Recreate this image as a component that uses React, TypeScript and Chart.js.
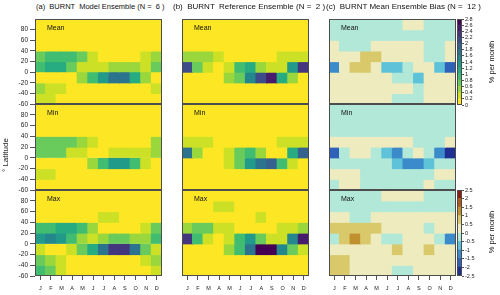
import React, { useEffect, useRef } from "react";
import { Chart, registerables } from "chart.js";
Chart.register(...registerables);

const FONT = '"Liberation Sans", Arial, Helvetica, sans-serif';

// ---------- data ----------
const months = ["J", "F", "M", "A", "M", "J", "J", "A", "S", "O", "N", "D"];
// latitude bins, from the top (80..100) down to (-60..-40)
const latBinTops = [100, 80, 60, 40, 20, 0, -20, -40];
const latBinSize = 20;
const latTicks = [-60, -40, -20, 0, 20, 40, 60, 80];

const viridisTicks = [0, 0.2, 0.4, 0.6, 0.8, 1, 1.2, 1.4, 1.6, 1.8, 2, 2.2, 2.4, 2.6, 2.8];
const viridisTickLabels = ["0", "0.2", "0.4", "0.6", "0.8", "1", "1.2", "1.4", "1.6", "1.8", "2", "2.2", "2.4", "2.6", "2.8"];
const biasTicks = [-2.5, -2, -1.5, -1, -0.5, 0, 0.5, 1, 1.5, 2, 2.5];
const biasTickLabels = ["-2.5", "-2", "-1.5", "-1", "-0.5", "0", "0.5", "1", "1.5", "2", "2.5"];
const biasColors = ["#1e2f91", "#2f61b8", "#3b8bcb", "#5ec3d9", "#b1e8d8", "#eeebbf", "#d9c96a", "#c0902f", "#ad5a1e", "#8a1d0c"];

// % per month, rows = latitude bins (top to bottom), columns = months
const modelMean = [
  [0.1, 0.1, 0.1, 0.1, 0.1, 0.1, 0.1, 0.1, 0.1, 0.1, 0.1, 0.1],
  [0.1, 0.1, 0.1, 0.1, 0.1, 0.1, 0.1, 0.1, 0.1, 0.1, 0.1, 0.1],
  [0.1, 0.1, 0.1, 0.1, 0.1, 0.1, 0.1, 0.1, 0.1, 0.1, 0.1, 0.1],
  [0.7, 0.9, 0.9, 0.9, 0.7, 0.3, 0.1, 0.1, 0.1, 0.1, 0.3, 0.5],
  [0.9, 1.1, 1.1, 0.7, 0.3, 0.3, 0.3, 0.5, 0.5, 0.5, 0.3, 0.7],
  [0.1, 0.1, 0.1, 0.1, 0.5, 0.9, 1.3, 1.7, 1.7, 1.1, 0.5, 0.1],
  [0.5, 0.3, 0.3, 0.1, 0.1, 0.1, 0.1, 0.1, 0.1, 0.1, 0.1, 0.3],
  [0.3, 0.3, 0.1, 0.1, 0.1, 0.1, 0.1, 0.1, 0.1, 0.1, 0.1, 0.1],
];
const modelMin = [
  [0.1, 0.1, 0.1, 0.1, 0.1, 0.1, 0.1, 0.1, 0.1, 0.1, 0.1, 0.1],
  [0.1, 0.1, 0.1, 0.1, 0.1, 0.1, 0.1, 0.1, 0.1, 0.1, 0.1, 0.1],
  [0.1, 0.1, 0.1, 0.1, 0.1, 0.1, 0.1, 0.1, 0.1, 0.1, 0.1, 0.1],
  [0.7, 0.7, 0.7, 0.7, 0.5, 0.3, 0.1, 0.1, 0.1, 0.1, 0.1, 0.5],
  [0.7, 0.7, 0.7, 0.3, 0.3, 0.1, 0.1, 0.3, 0.3, 0.3, 0.3, 0.5],
  [0.1, 0.1, 0.1, 0.1, 0.1, 0.5, 0.9, 1.3, 1.3, 0.9, 0.3, 0.1],
  [0.3, 0.3, 0.1, 0.1, 0.1, 0.1, 0.1, 0.1, 0.1, 0.1, 0.1, 0.1],
  [0.1, 0.1, 0.1, 0.1, 0.1, 0.1, 0.1, 0.1, 0.1, 0.1, 0.1, 0.1],
];
const modelMax = [
  [0.1, 0.1, 0.1, 0.1, 0.1, 0.1, 0.1, 0.1, 0.1, 0.1, 0.1, 0.1],
  [0.1, 0.1, 0.1, 0.1, 0.1, 0.1, 0.1, 0.1, 0.1, 0.1, 0.1, 0.1],
  [0.1, 0.1, 0.1, 0.1, 0.1, 0.1, 0.3, 0.3, 0.1, 0.1, 0.1, 0.1],
  [0.9, 0.9, 1.1, 1.1, 0.9, 0.5, 0.1, 0.1, 0.1, 0.1, 0.3, 0.7],
  [1.3, 1.5, 1.3, 0.9, 0.5, 0.3, 0.5, 0.7, 0.7, 0.5, 0.5, 0.9],
  [0.3, 0.1, 0.1, 0.3, 0.7, 1.1, 1.7, 2.3, 2.3, 1.7, 0.7, 0.3],
  [0.7, 0.5, 0.3, 0.1, 0.1, 0.1, 0.1, 0.1, 0.1, 0.1, 0.3, 0.5],
  [0.9, 0.7, 0.3, 0.1, 0.1, 0.1, 0.1, 0.1, 0.1, 0.1, 0.1, 0.3],
];
const refMean = [
  [0.1, 0.1, 0.1, 0.1, 0.1, 0.1, 0.1, 0.1, 0.1, 0.1, 0.1, 0.1],
  [0.1, 0.1, 0.1, 0.1, 0.1, 0.1, 0.1, 0.1, 0.1, 0.1, 0.1, 0.1],
  [0.1, 0.1, 0.1, 0.1, 0.1, 0.1, 0.1, 0.1, 0.1, 0.1, 0.1, 0.1],
  [0.5, 0.5, 0.5, 0.3, 0.1, 0.1, 0.1, 0.1, 0.1, 0.3, 0.3, 0.3],
  [2.1, 0.7, 0.3, 0.1, 0.3, 0.9, 1.1, 0.5, 0.3, 0.3, 1.3, 2.3],
  [0.1, 0.1, 0.1, 0.1, 0.5, 0.7, 1.5, 2.1, 2.5, 1.1, 0.5, 0.1],
  [0.1, 0.1, 0.1, 0.1, 0.1, 0.1, 0.1, 0.1, 0.1, 0.1, 0.1, 0.1],
  [0.1, 0.1, 0.1, 0.1, 0.1, 0.1, 0.1, 0.1, 0.1, 0.1, 0.1, 0.1],
];
const refMin = [
  [0.1, 0.1, 0.1, 0.1, 0.1, 0.1, 0.1, 0.1, 0.1, 0.1, 0.1, 0.1],
  [0.1, 0.1, 0.1, 0.1, 0.1, 0.1, 0.1, 0.1, 0.1, 0.1, 0.1, 0.1],
  [0.1, 0.1, 0.1, 0.1, 0.1, 0.1, 0.1, 0.1, 0.1, 0.1, 0.1, 0.1],
  [0.3, 0.3, 0.3, 0.1, 0.1, 0.1, 0.1, 0.1, 0.1, 0.3, 0.3, 0.3],
  [1.7, 0.5, 0.1, 0.1, 0.3, 0.7, 0.9, 0.5, 0.1, 0.1, 1.1, 1.9],
  [0.1, 0.1, 0.1, 0.1, 0.3, 0.7, 1.3, 1.7, 1.9, 0.9, 0.3, 0.1],
  [0.1, 0.1, 0.1, 0.1, 0.1, 0.1, 0.1, 0.1, 0.1, 0.1, 0.1, 0.1],
  [0.1, 0.1, 0.1, 0.1, 0.1, 0.1, 0.1, 0.1, 0.1, 0.1, 0.1, 0.1],
];
const refMax = [
  [0.1, 0.1, 0.1, 0.1, 0.1, 0.1, 0.1, 0.1, 0.1, 0.1, 0.1, 0.1],
  [0.1, 0.1, 0.1, 0.3, 0.3, 0.1, 0.1, 0.1, 0.1, 0.1, 0.1, 0.1],
  [0.1, 0.1, 0.1, 0.1, 0.1, 0.1, 0.1, 0.3, 0.1, 0.1, 0.1, 0.1],
  [0.5, 0.7, 0.7, 0.3, 0.3, 0.1, 0.1, 0.1, 0.1, 0.3, 0.3, 0.5],
  [2.3, 0.9, 0.3, 0.1, 0.3, 0.9, 1.3, 0.7, 0.3, 0.3, 1.5, 2.5],
  [0.1, 0.1, 0.1, 0.1, 0.5, 0.9, 1.7, 2.7, 2.7, 1.5, 0.7, 0.3],
  [0.1, 0.1, 0.1, 0.1, 0.1, 0.1, 0.1, 0.1, 0.1, 0.1, 0.1, 0.1],
  [0.1, 0.1, 0.1, 0.1, 0.1, 0.1, 0.1, 0.1, 0.1, 0.1, 0.1, 0.1],
];
const biasMean = [
  [-0.25, -0.25, -0.25, -0.25, -0.25, -0.25, -0.25, 0.25, 0.25, -0.25, -0.25, -0.25],
  [-0.25, -0.25, -0.25, -0.25, -0.25, -0.25, -0.25, -0.25, -0.25, -0.25, -0.25, -0.25],
  [0.25, -0.25, -0.25, -0.25, 0.25, 0.25, 0.25, 0.25, 0.25, -0.25, -0.25, 0.25],
  [0.25, 0.25, 0.25, 0.75, 0.75, 0.25, 0.25, 0.25, 0.25, -0.25, -0.25, 0.25],
  [-1.25, 0.25, 0.75, 0.75, 0.25, -0.75, -0.75, -0.25, 0.25, 0.25, -0.75, -1.75],
  [0.25, 0.25, 0.25, 0.25, 0.25, 0.25, -0.25, -0.25, -0.75, 0.25, 0.25, 0.25],
  [0.25, 0.25, 0.25, 0.25, 0.25, 0.25, 0.25, 0.25, -0.25, 0.25, 0.25, 0.25],
  [0.25, 0.25, 0.25, 0.25, 0.25, 0.25, -0.25, -0.25, -0.25, 0.25, 0.25, 0.25],
];
const biasMin = [
  [-0.25, -0.25, -0.25, -0.25, -0.25, -0.25, -0.25, -0.25, -0.25, -0.25, -0.25, -0.25],
  [-0.25, -0.25, -0.25, -0.25, -0.25, -0.25, -0.25, -0.25, -0.25, -0.25, -0.25, -0.25],
  [-0.25, -0.25, -0.25, -0.25, -0.25, -0.25, -0.25, -0.25, -0.25, -0.25, -0.25, -0.25],
  [0.25, 0.25, 0.25, 0.25, 0.25, 0.25, 0.25, 0.25, -0.25, -0.25, -0.25, 0.25],
  [-1.75, -0.25, 0.25, 0.25, -0.25, -0.75, -1.25, -0.25, 0.25, -0.25, -1.25, -2.25],
  [-0.25, -0.25, -0.25, -0.25, -0.25, -0.25, -0.75, -1.25, -1.25, -0.75, -0.25, -0.25],
  [0.25, 0.25, 0.25, -0.25, -0.25, -0.25, -0.25, -0.25, -0.25, -0.25, 0.25, 0.25],
  [-0.25, 0.25, 0.25, -0.25, -0.25, -0.25, -0.25, -0.25, -0.25, 0.25, -0.25, -0.25],
];
const biasMax = [
  [-0.25, -0.25, -0.25, -0.25, -0.25, 0.25, 0.25, 0.25, 0.25, -0.25, -0.25, -0.25],
  [-0.25, -0.25, -0.25, -0.25, -0.25, -0.25, -0.25, -0.25, -0.25, -0.25, -0.25, -0.25],
  [0.25, 0.25, -0.25, -0.25, 0.25, 0.25, 0.25, 0.25, 0.25, 0.25, 0.25, 0.25],
  [0.75, 0.75, 0.75, 0.75, 0.75, 0.25, 0.25, 0.25, 0.25, -0.25, 0.25, 0.25],
  [-0.25, 0.75, 1.25, 0.75, 0.25, -0.25, -0.25, 0.25, 0.25, 0.25, -0.25, -1.25],
  [0.25, 0.25, 0.25, 0.25, 0.25, 0.25, 0.75, 0.25, 0.25, 0.75, 0.25, 0.25],
  [0.75, 0.75, 0.25, 0.25, 0.25, 0.25, 0.25, 0.25, 0.25, 0.25, 0.25, 0.25],
  [0.75, 0.75, 0.25, 0.25, 0.25, 0.25, -0.25, -0.25, 0.25, 0.25, 0.25, 0.25],
];

const columnTitles = [
  "(a)  BURNT  Model Ensemble (N =  6 )",
  "(b)  BURNT  Reference Ensemble (N =  2 )",
  "(c)  BURNT Mean Ensemble Bias (N =  12 )",
];
const rowLabels = ["Mean", "Min", "Max"];
const panelData = [
  [modelMean, refMean, biasMean],
  [modelMin, refMin, biasMin],
  [modelMax, refMax, biasMax],
];

// ---------- colours ----------
const VIR = ["#440154", "#482475", "#414487", "#355f8d", "#2a788e", "#21918c", "#22a884", "#44bf70", "#7ad151", "#bddf26", "#fde725"];
function hex2rgb(h: string) {
  return [parseInt(h.slice(1, 3), 16), parseInt(h.slice(3, 5), 16), parseInt(h.slice(5, 7), 16)];
}
function viridis(t: number) {
  const x = Math.max(0, Math.min(1, t)) * (VIR.length - 1);
  const i = Math.min(VIR.length - 2, Math.floor(x));
  const f = x - i;
  const a = hex2rgb(VIR[i]);
  const b = hex2rgb(VIR[i + 1]);
  const c = a.map((v, k) => Math.round(v + (b[k] - v) * f));
  return `rgb(${c[0]},${c[1]},${c[2]})`;
}
const nVir = viridisTicks.length - 1;
const viridisColors = Array.from({ length: nVir }, (_, i) => viridis(1 - i / (nVir - 1)));
function binIndex(v: number, edges: number[]) {
  for (let i = 0; i < edges.length - 1; i++) if (v < edges[i + 1]) return i;
  return edges.length - 2;
}
const viridisColor = (v: number) => viridisColors[binIndex(v, viridisTicks)];
const biasColor = (v: number) => biasColors[binIndex(v, biasTicks)];

// ---------- layout ----------
const L = [35, 182, 329];
const PW = 127;
const T = [19, 104, 190];
const PH = [85, 86, 86];
const PAD = 6;
const XAXIS_H = 19;

const borderPlugin = {
  id: "panelBorder",
  afterDatasetsDraw(chart: any) {
    const { ctx, chartArea: a } = chart;
    ctx.save();
    ctx.strokeStyle = "#4d4d4d";
    ctx.lineWidth = 1;
    ctx.strokeRect(a.left + 0.5, a.top + 0.5, a.right - a.left - 1, a.bottom - a.top - 1);
    ctx.restore();
  },
};

function panelConfig(grid: number[][], colorFn: (v: number) => string, col: number, row: number) {
  const datasets = grid.map((vals, r) => ({
    data: months.map(() => [latBinTops[r] - latBinSize, latBinTops[r]]),
    backgroundColor: vals.map(colorFn),
    borderWidth: 0,
    barPercentage: 1,
    categoryPercentage: 1,
    grouped: false,
    inflateAmount: 0.6,
  }));
  const xScale: any = {
    type: "category",
    display: row === 2,
    offset: true,
    grid: { offset: false, drawOnChartArea: false, tickLength: 4, color: "#555", lineWidth: 1 },
    border: { display: false },
    ticks: { font: { size: 5.5, family: FONT }, color: "#222", padding: 5, maxRotation: 0, autoSkip: false },
  };
  if (row === 2) {
    xScale.afterFit = (s: any) => {
      s.height = XAXIS_H;
      s.paddingLeft = 0;
      s.paddingRight = 0;
    };
  }
  const yScale: any = {
    type: "linear",
    display: col === 0,
    min: latBinTops[latBinTops.length - 1] - latBinSize,
    max: latBinTops[0],
    afterBuildTicks: (s: any) => {
      s.ticks = latTicks.map((v) => ({ value: v }));
    },
    grid: { drawOnChartArea: false, tickLength: 5, color: "#555", lineWidth: 1 },
    border: { display: false },
    ticks: { font: { size: 6.5, family: FONT }, color: "#222", padding: 2, callback: (v: any) => String(v) },
  };
  if (col === 0) {
    yScale.afterFit = (s: any) => {
      s.width = L[0];
      s.paddingTop = 0;
      s.paddingBottom = 0;
    };
  }
  return {
    type: "bar",
    data: { labels: months, datasets },
    options: {
      animation: false,
      responsive: false,
      events: [],
      layout: { padding: { left: col === 0 ? 0 : 2, right: 2, top: PAD, bottom: row === 2 ? 0 : PAD } },
      plugins: { legend: { display: false }, tooltip: { enabled: false } },
      scales: { x: xScale, y: yScale },
    },
    plugins: [borderPlugin],
  };
}

function colorbarConfig(edges: number[], colors: string[], labels: string[]) {
  const datasets = colors.map((c, i) => ({
    data: [[edges[i], edges[i + 1]]],
    backgroundColor: c,
    borderWidth: 0,
    barPercentage: 1,
    categoryPercentage: 1,
    grouped: false,
    inflateAmount: 0.6,
  }));
  return {
    type: "bar",
    data: { labels: [""], datasets },
    options: {
      animation: false,
      responsive: false,
      events: [],
      layout: { padding: { left: 2, right: 0, top: PAD, bottom: PAD } },
      plugins: { legend: { display: false }, tooltip: { enabled: false } },
      scales: {
        x: { display: false, offset: true },
        y: {
          type: "linear",
          position: "right",
          min: edges[0],
          max: edges[edges.length - 1],
          afterBuildTicks: (s: any) => {
            s.ticks = edges.map((v) => ({ value: v }));
          },
          grid: { drawOnChartArea: false, tickLength: 2, color: "#555", lineWidth: 1 },
          border: { display: false },
          ticks: {
            font: { size: 5.5, family: FONT },
            color: "#222",
            padding: 1,
            autoSkip: false,
            callback: (_v: any, i: number) => labels[i],
          },
          afterFit: (s: any) => {
            s.width = 38;
            s.paddingTop = 0;
            s.paddingBottom = 0;
          },
        },
      },
    },
    plugins: [borderPlugin],
  };
}

function ChartCanvas({ config, left, top, width, height }: any) {
  const ref = useRef<HTMLCanvasElement>(null);
  useEffect(() => {
    const chart = new Chart(ref.current as HTMLCanvasElement, config);
    return () => chart.destroy();
  }, []);
  return (
    <canvas
      ref={ref}
      width={width}
      height={height}
      style={{ position: "absolute", left, top, width, height }}
    />
  );
}

export default function App() {
  const panels: any[] = [];
  for (let r = 0; r < 3; r++) {
    for (let c = 0; c < 3; c++) {
      const left = c === 0 ? 0 : L[c] - 2;
      const width = (c === 0 ? L[0] : 2) + PW + 2;
      const top = T[r] - PAD;
      const height = PAD + PH[r] + (r === 2 ? XAXIS_H : PAD);
      panels.push(
        <ChartCanvas
          key={`p${r}${c}`}
          config={panelConfig(panelData[r][c], c === 2 ? biasColor : viridisColor, c, r)}
          left={left}
          top={top}
          width={width}
          height={height}
        />
      );
    }
  }
  const text = (extra: any) => ({
    position: "absolute" as const,
    fontFamily: FONT,
    color: "#111",
    whiteSpace: "pre" as const,
    ...extra,
  });
  return (
    <div style={{ position: "absolute", left: 0, top: 0, width: 500, height: 295, background: "#fff", overflow: "hidden" }}>
      {panels}
      <ChartCanvas config={colorbarConfig(viridisTicks, viridisColors, viridisTickLabels)} left={455} top={19 - PAD} width={45} height={86 + 2 * PAD} />
      <ChartCanvas config={colorbarConfig(biasTicks, biasColors, biasTickLabels)} left={455} top={190 - PAD} width={45} height={86 + 2 * PAD} />
      {columnTitles.map((t, i) => (
        <div key={`t${i}`} style={text({ left: [36, 173, 326][i], top: 2, fontSize: [7.5, 8, 8][i], lineHeight: "10px" })}>{t}</div>
      ))}
      {rowLabels.map((lab, r) =>
        [0, 1, 2].map((c) => (
          <div key={`l${r}${c}`} style={text({ left: L[c] + 12, top: T[r] + 4, fontSize: 7, lineHeight: "9px" })}>{lab}</div>
        ))
      )}
      <div style={text({ left: 6, top: 155, fontSize: 8, lineHeight: "10px", transform: "translate(-50%,-50%) rotate(-90deg)" })}>° Latitude</div>
      <div style={text({ left: 491, top: 62, fontSize: 7.5, lineHeight: "9px", transform: "translate(-50%,-50%) rotate(-90deg)" })}>% per month</div>
      <div style={text({ left: 491, top: 232, fontSize: 7.5, lineHeight: "9px", transform: "translate(-50%,-50%) rotate(-90deg)" })}>% per month</div>
    </div>
  );
}
